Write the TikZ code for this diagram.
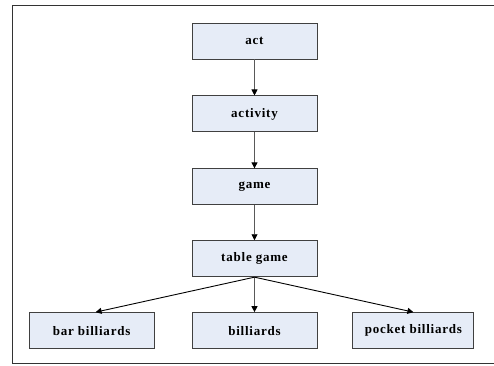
\documentclass[tikz,border=0pt]{standalone}
\usepackage{fontspec}
\setmainfont{Liberation Serif}[LetterSpace=6]
\usetikzlibrary{positioning,arrows.meta}
\definecolor{boxfill}{RGB}{230,236,247}
\definecolor{boxline}{RGB}{64,64,64}
\tikzset{
  termbox/.style={draw=boxline, fill=boxfill, line width=0.9pt,
    minimum width=125pt, minimum height=36pt, inner sep=0pt,
    font=\fontsize{13}{15}\selectfont\bfseries},
  isalink/.style={draw=black!65, line width=0.9pt,
    -{Triangle[width=6pt,length=6pt,black]}},
}
\begin{document}
\begin{tikzpicture}[node distance=36pt]
\useasboundingbox (0,0) rectangle (494pt,-365pt);
% frame
\draw[black!80, line width=1pt] (494pt,-5pt) -- (12pt,-5pt) -- (12pt,-363pt) -- (494pt,-363pt);
% hypernym chain
\node[termbox] (act) at (254.5pt,-41pt) {act};
\node[termbox, below=of act] (activity) {activity};
\node[termbox, below=of activity] (game) {game};
\node[termbox, below=35pt of game] (tablegame) {table game};
% hyponyms
\node[termbox, below=35pt of tablegame] (billiards) {billiards};
\node[termbox, left=37pt of billiards] (barbilliards) {bar billiards};
\node[termbox, right=35pt of billiards, minimum width=121pt] (pocketbilliards) {pocket billiards};
% links
\draw[isalink] (act) -- (activity);
\draw[isalink] (activity) -- (game);
\draw[isalink] (game) -- (tablegame);
\draw[isalink] (tablegame) -- (billiards);
\draw[isalink, draw=black] (tablegame.south) -- ([xshift=4pt]barbilliards.north);
\draw[isalink, draw=black] (tablegame.south) -- (pocketbilliards.north);
\end{tikzpicture}
\end{document}
